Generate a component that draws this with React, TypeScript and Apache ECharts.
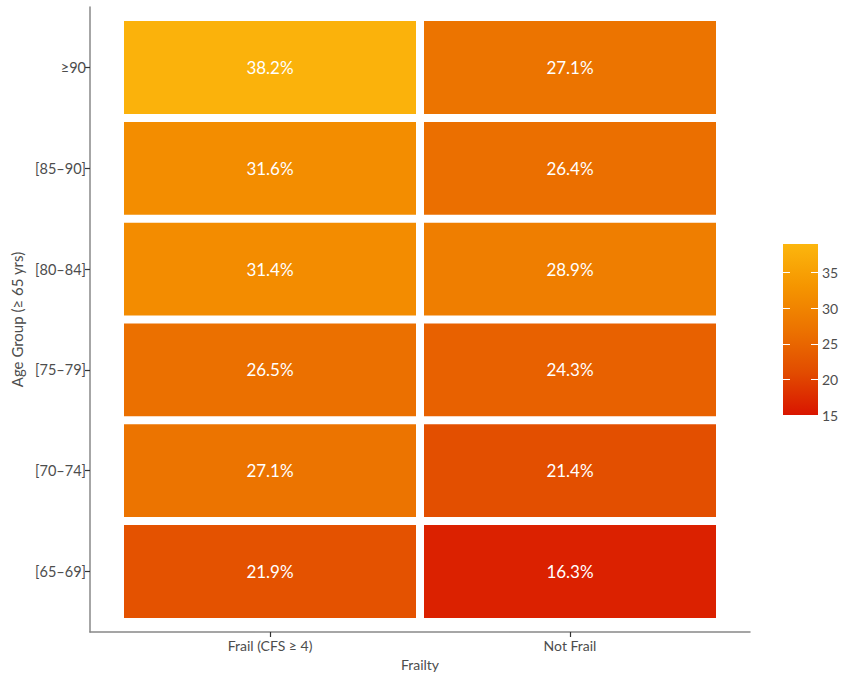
import React, { useEffect, useRef } from "react";
import * as echarts from "echarts";

const frailtyCats = ["Frail (CFS ≥ 4)", "Not Frail"];
const ageCats = ["[65–69]", "[70–74]", "[75–79]", "[80–84]", "[85–90]", "≥90"];
const frailValues = [21.9, 27.1, 26.5, 31.4, 31.6, 38.2];
const notFrailValues = [16.3, 21.4, 24.3, 28.9, 26.4, 27.1];
const scaleMin = 15;
const scaleMax = 39;
const scaleColors = ["#D91500", "#E24C00", "#EC7300", "#F59500", "#FCB60D"];

const FONT = "Lato, 'Open Sans', sans-serif";
const EXPAND = 0.6;

export default function App() {
  const ref = useRef<HTMLDivElement>(null);
  useEffect(() => {
    if (!ref.current) return;
    const chart = echarts.init(ref.current, undefined, { renderer: "svg" });
    const data: number[][] = [];
    ageCats.forEach((_, i) => {
      data.push([0, i, frailValues[i]]);
      data.push([1, i, notFrailValues[i]]);
    });
    const xIdx = frailtyCats.map((_, i) => i);
    const yIdx = ageCats.map((_, i) => i);
    const n = scaleColors.length;
    const stops = scaleColors
      .map((c, i) => ({ offset: 1 - i / (n - 1), color: c }))
      .reverse();
    const option: any = {
      animation: false,
      textStyle: { fontFamily: FONT },
      grid: [
        { left: 90, top: 7, width: 660, height: 625, containLabel: false, outerBoundsMode: "none" },
        { left: 783, top: 244, width: 35, height: 171, containLabel: false, outerBoundsMode: "none" },
      ],
      xAxis: [
        {
          gridIndex: 0,
          type: "value",
          min: -EXPAND,
          max: frailtyCats.length - 1 + EXPAND,
          axisLine: { show: true, onZero: false, lineStyle: { color: "#888", width: 1.5 } },
          axisTick: {
            show: true,
            customValues: xIdx,
            length: 5,
            lineStyle: { color: "#333", width: 1.2 },
          },
          axisLabel: {
            customValues: xIdx,
            color: "#4d4d4d",
            fontSize: 14,
            margin: 6,
            fontFamily: FONT,
            formatter: (v: number) => frailtyCats[Math.round(v)] ?? "",
          },
          splitLine: { show: false },
          name: "Frailty",
          nameLocation: "middle",
          nameGap: 25,
          nameTextStyle: { color: "#4d4d4d", fontSize: 14, fontFamily: FONT },
        },
        {
          gridIndex: 1,
          type: "category",
          data: ["c"],
          show: false,
        },
      ],
      yAxis: [
        {
          gridIndex: 0,
          type: "value",
          min: -EXPAND,
          max: ageCats.length - 1 + EXPAND,
          axisLine: { show: true, onZero: false, lineStyle: { color: "#888", width: 1.5 } },
          axisTick: {
            show: true,
            customValues: yIdx,
            length: 5,
            lineStyle: { color: "#333", width: 1.2 },
          },
          axisLabel: {
            customValues: yIdx,
            color: "#4d4d4d",
            fontSize: 14.5,
            margin: 4,
            fontFamily: FONT,
            formatter: (v: number) => ageCats[Math.round(v)] ?? "",
          },
          splitLine: { show: false },
          name: "Age Group (≥ 65 yrs)",
          nameLocation: "middle",
          nameGap: 66,
          nameTextStyle: { color: "#4d4d4d", fontSize: 15, fontFamily: FONT },
        },
        {
          gridIndex: 1,
          type: "value",
          position: "right",
          min: scaleMin,
          max: scaleMax,
          interval: 5,
          z: 5,
          axisLine: { show: false },
          axisTick: { show: false },
          axisLabel: {
            color: "#4d4d4d",
            fontSize: 14,
            margin: 4,
            fontFamily: FONT,
            showMaxLabel: false,
            formatter: (v: number) => (v % 5 === 0 ? String(v) : ""),
          },
          splitLine: {
            show: true,
            showMaxLine: false,
            lineStyle: { color: "#ffffff", width: 1, type: [7, 21] },
          },
        },
      ],
      visualMap: {
        show: false,
        type: "continuous",
        min: scaleMin,
        max: scaleMax,
        dimension: 2,
        seriesIndex: 0,
        inRange: { color: scaleColors },
      },
      series: [
        {
          type: "custom",
          xAxisIndex: 0,
          yAxisIndex: 0,
          data,
          encode: { x: 0, y: 1 },
          renderItem: (params: any, api: any) => {
            const c = api.coord([api.value(0), api.value(1)]);
            const s = api.size([1, 1]);
            const gap = 8;
            const w = s[0] - gap;
            const h = s[1] - gap;
            return {
              type: "group",
              children: [
                {
                  type: "rect",
                  shape: { x: c[0] - w / 2, y: c[1] - h / 2, width: w, height: h },
                  style: { fill: api.visual("color") },
                },
                {
                  type: "text",
                  x: c[0],
                  y: c[1],
                  style: {
                    text: api.value(2).toFixed(1) + "%",
                    fill: "#ffffff",
                    fontSize: 17,
                    fontFamily: FONT,
                    align: "center",
                    verticalAlign: "middle",
                  },
                },
              ],
            };
          },
        },
        {
          type: "custom",
          xAxisIndex: 1,
          yAxisIndex: 1,
          z: 1,
          data: [[0, scaleMin, scaleMax]],
          renderItem: (params: any, api: any) => {
            const top = api.coord([0, api.value(2)]);
            const bot = api.coord([0, api.value(1)]);
            const w = api.size([1, 0])[0];
            return {
              type: "rect",
              shape: { x: top[0] - w / 2, y: top[1], width: w, height: bot[1] - top[1] },
              style: { fill: new echarts.graphic.LinearGradient(0, 0, 0, 1, stops) },
            };
          },
        },
      ],
    };
    chart.setOption(option);
    return () => chart.dispose();
  }, []);
  return <div ref={ref} style={{ width: 841, height: 677, position: "absolute", left: 0, top: 0 }} />;
}
